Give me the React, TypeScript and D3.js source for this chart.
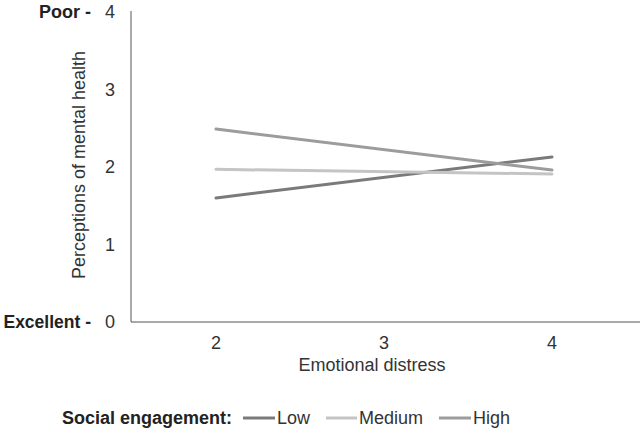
import React from "react";
import * as d3 from "d3";

const xValues = [2, 4];
const xTicks = [2, 3, 4];
const yTicks = [0, 1, 2, 3, 4];
const seriesNames = ["Low", "Medium", "High"];
const lowValues = [1.6, 2.13];
const mediumValues = [1.97, 1.91];
const highValues = [2.49, 1.96];
const seriesColors = ["#7a7a7a", "#c4c4c4", "#9c9c9c"];

export default function App() {
  const W = 640, H = 429;
  const x = d3.scaleLinear().domain([1.5, 4.5]).range([132, 636]);
  const y = d3.scaleLinear().domain([0, 4]).range([322, 12]);
  const series = [lowValues, mediumValues, highValues];
  const line = d3.line<number>().x((_, i) => x(xValues[i])).y((v) => y(v));
  const font = "'Liberation Sans', Arial, sans-serif";
  const legendItems = [
    { lx: 243, lx2: 275, tx: 277 },
    { lx: 326, lx2: 357, tx: 359 },
    { lx: 439, lx2: 471, tx: 473 },
  ];
  const legendY = 418;
  return (
    <svg width={W} height={H} style={{ position: "absolute", left: 0, top: 0, fontFamily: font }}>
      <rect width={W} height={H} fill="#fff" />
      <line x1={131} x2={131} y1={11} y2={322} stroke="#555" strokeWidth={1} />
      <line x1={131} x2={640} y1={322} y2={322} stroke="#555" strokeWidth={1} />
      {yTicks.map((t) => (
        <text key={t} x={110} y={y(t)} dy="0.35em" textAnchor="middle" fontSize={18} fill="#333">
          {t}
        </text>
      ))}
      <text x={91} y={y(4)} dy="0.35em" textAnchor="end" fontSize={18} fontWeight="bold" fill="#222">Poor -</text>
      <text x={91} y={y(0)} dy="0.35em" textAnchor="end" fontSize={17.5} fontWeight="bold" fill="#222">Excellent -</text>
      {xTicks.map((t) => (
        <text key={t} x={x(t)} y={343} dy="0.35em" textAnchor="middle" fontSize={18} fill="#333">
          {t}
        </text>
      ))}
      <text x={372} y={365} dy="0.35em" textAnchor="middle" fontSize={18} fill="#333">Emotional distress</text>
      <text transform={`translate(79,165) rotate(-90)`} textAnchor="middle" dy="0.35em" fontSize={18} fill="#333">
        Perceptions of mental health
      </text>
      {series.map((s, i) => (
        <path key={i} d={line(s) || ""} fill="none" stroke={seriesColors[i]} strokeWidth={3} strokeLinecap="round" />
      ))}
      <text x={62} y={legendY} dy="0.35em" textAnchor="start" fontSize={18} fontWeight="bold" fill="#222">Social engagement:</text>
      {seriesNames.map((n, i) => (
        <g key={n}>
          <line x1={legendItems[i].lx} x2={legendItems[i].lx2} y1={legendY} y2={legendY} stroke={seriesColors[i]} strokeWidth={3} />
          <text x={legendItems[i].tx} y={legendY} dy="0.35em" fontSize={18} fill="#333">{n}</text>
        </g>
      ))}
    </svg>
  );
}
